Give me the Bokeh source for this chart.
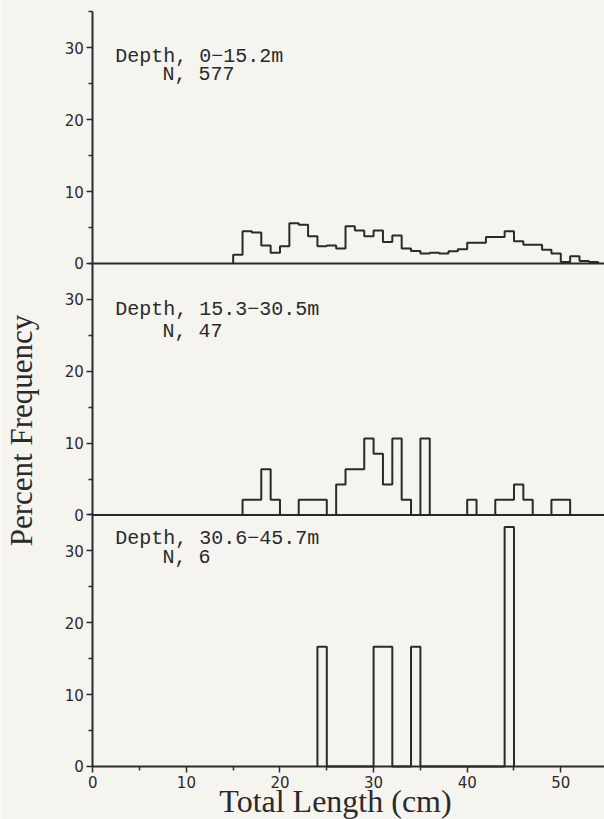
import numpy as np
from bokeh.plotting import figure
from bokeh.models import FixedTicker, Label
from bokeh.embed import file_html
from bokeh.resources import INLINE

# ---- data (percent frequency per 1-cm total-length bin; bin = [left, left+1)) ----
bins_shallow = list(range(15, 54))
pct_shallow = [1.2, 4.5, 4.3, 2.5, 1.5, 2.4, 5.6, 5.4, 3.8, 2.4,
               2.5, 2.1, 5.2, 4.6, 3.8, 4.6, 3.0, 3.9, 2.1, 1.75,
               1.4, 1.5, 1.4, 1.7, 2.0, 2.9, 2.9, 3.7, 3.7, 4.5,
               3.1, 2.6, 2.6, 1.9, 1.4, 0.2, 1.0, 0.35, 0.2]

bins_mid = list(range(16, 51))
pct_mid = [2.13, 2.13, 6.38, 2.13, 0, 0, 2.13, 2.13, 2.13, 0,
           4.26, 6.38, 6.38, 10.64, 8.51, 4.26, 10.64, 2.13, 0, 10.64,
           0, 0, 0, 0, 2.13, 0, 0, 2.13, 2.13, 4.26,
           2.13, 0, 0, 2.13, 2.13]

bins_deep = list(range(24, 45))
pct_deep = [16.67, 0, 0, 0, 0, 0, 16.67, 16.67, 0, 0,
            16.67, 0, 0, 0, 0, 0, 0, 0, 0, 0, 33.33]

panel_titles = ["Depth, 0\u221215.2m", "Depth, 15.3\u221230.5m", "Depth, 30.6\u221245.7m"]
panel_n = ["N, 577", "N, 47", "N, 6"]

x_ticks = [0, 10, 20, 30, 40, 50]
x_minor = [5, 15, 25, 35, 45]
y_ticks_panel = [0, 10, 20, 30]
panel_span = 35
x_max = 54.67

# annotation placement inside each panel (panel units)
title_y = [28.74, 28.6, 31.7]
n_y = [26.37, 25.6, 29.1]

BG = "#f6f4ef"
INK = "#2a2a2a"

p = figure(width=604, height=819, x_range=(-9.861, x_max), y_range=(-7.376, 106.6),
           output_backend="svg", toolbar_location=None,
           min_border_left=0, min_border_right=0, min_border_top=0, min_border_bottom=0,
           background_fill_color=BG, border_fill_color=BG)
p.outline_line_color = None
p.grid.visible = False


def step_xy(lefts, vals):
    lefts = np.asarray(lefts, dtype=float)
    vals = np.asarray(vals, dtype=float)
    xs = np.concatenate([[lefts[0]], np.repeat(lefts, 2)[1:], [lefts[-1] + 1, lefts[-1] + 1]])
    ys = np.concatenate([[0.0], np.repeat(vals, 2), [0.0]])
    return xs, ys


datasets = [(bins_shallow, pct_shallow), (bins_mid, pct_mid), (bins_deep, pct_deep)]
offsets = [2 * panel_span, panel_span, 0]

# panel baselines (upper two panels)
p.segment(x0=[0, 0], y0=offsets[:2], x1=[x_max, x_max], y1=offsets[:2],
          line_color=INK, line_width=2)

for (b, v), off, t1, t2, ty, ny in zip(datasets, offsets, panel_titles, panel_n, title_y, n_y):
    xs, ys = step_xy(b, v)
    p.line(xs, ys + off, line_color=INK, line_width=2)
    p.add_layout(Label(x=2.4, y=off + ty, text=t1, text_font="Liberation Mono",
                       text_font_size="20px", text_color=INK, text_baseline="middle"))
    p.add_layout(Label(x=7.45, y=off + ny, text=t2, text_font="Liberation Mono",
                       text_font_size="20px", text_color=INK, text_baseline="middle"))

# axes (drawn at x=0 / y=0 so the frame can hold the axis titles)
yt, ym, overrides = [], [], {}
for off in [0, panel_span, 2 * panel_span]:
    for t in y_ticks_panel:
        yt.append(off + t)
        overrides[off + t] = str(t)
    ym += [off + 5, off + 15, off + 25, off + 35]

p.yaxis.ticker = FixedTicker(ticks=yt, minor_ticks=ym)
p.yaxis.major_label_overrides = overrides
p.xaxis.ticker = FixedTicker(ticks=x_ticks, minor_ticks=x_minor)
p.yaxis.fixed_location = 0
p.xaxis.fixed_location = 0
p.yaxis.bounds = (0, 3 * panel_span)
p.xaxis.bounds = (0, x_max)

for ax in (p.xaxis, p.yaxis):
    ax.axis_line_color = INK
    ax.axis_line_width = 2
    ax.major_tick_line_color = INK
    ax.minor_tick_line_color = INK
    ax.major_tick_line_width = 1.5
    ax.minor_tick_line_width = 1.5
    ax.major_tick_in = 0
    ax.major_tick_out = 6
    ax.minor_tick_in = 0
    ax.minor_tick_out = 4
    ax.major_label_text_font = "DejaVu Sans"
    ax.major_label_text_font_size = "15px"
    ax.major_label_text_color = INK
p.xaxis.major_label_standoff = 4
p.yaxis.major_label_standoff = 3

p.add_layout(Label(x=25.93, y=-4.87, text="Total Length (cm)", text_font="Liberation Serif",
                   text_font_size="32px", text_color=INK, text_align="center",
                   text_baseline="middle"))
p.add_layout(Label(x=-7.57, y=46.76, text="Percent Frequency", text_font="Liberation Serif",
                   text_font_size="31px", text_color=INK, text_align="center",
                   text_baseline="middle", angle=np.pi / 2))

open("out.html", "w").write(file_html(p, INLINE))
